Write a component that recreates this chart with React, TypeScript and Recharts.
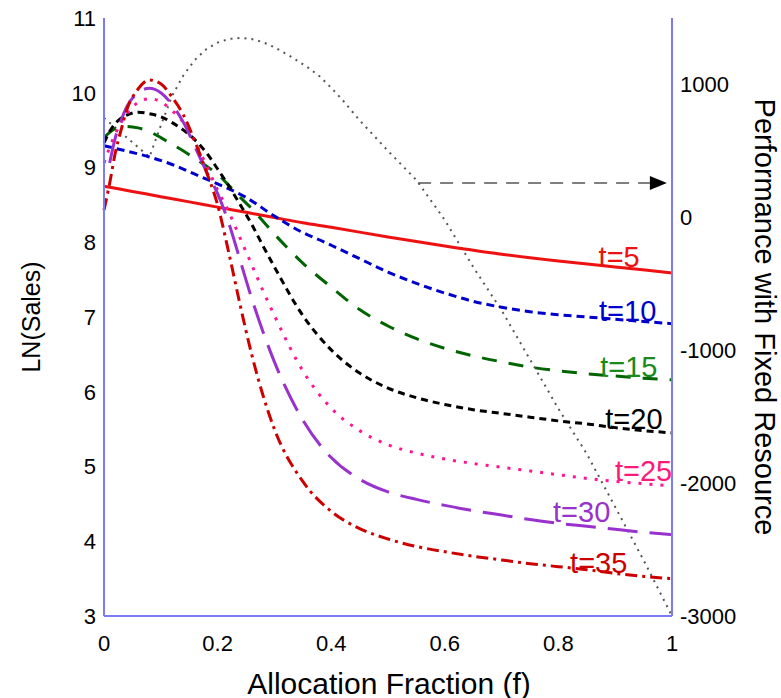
import React from 'react';
import { ComposedChart, Line, XAxis, YAxis, ReferenceDot } from 'recharts';

// ---------- data ----------
const xTicks = [0, 0.2, 0.4, 0.6, 0.8, 1];
const leftTicks = [3, 4, 5, 6, 7, 8, 9, 10, 11];
const rightTicks = [-3000, -2000, -1000, 0, 1000];

const fT5 = [0, 0.05, 0.1, 0.15, 0.2, 0.25, 0.3, 0.35, 0.4, 0.5, 0.6, 0.7, 0.8, 0.9, 1];
const vT5 = [8.75, 8.68, 8.61, 8.54, 8.47, 8.4, 8.33, 8.26, 8.2, 8.07, 7.95, 7.84, 7.75, 7.67, 7.59];

const fT10 = [0, 0.04, 0.08, 0.12, 0.16, 0.2, 0.25, 0.3, 0.35, 0.38, 0.4, 0.45, 0.5, 0.55, 0.6, 0.65, 0.7, 0.75, 0.8, 0.85, 0.9, 0.95, 1];
const vT10 = [9.29, 9.22, 9.14, 9.04, 8.91, 8.78, 8.6, 8.35, 8.13, 8.03, 7.96, 7.78, 7.6, 7.45, 7.32, 7.21, 7.13, 7.07, 7.03, 7.0, 6.97, 6.94, 6.91];

const fGrid = [0, 0.01, 0.02, 0.03, 0.04, 0.06, 0.08, 0.1, 0.12, 0.14, 0.16, 0.18, 0.2, 0.22, 0.24, 0.26, 0.28, 0.3, 0.35, 0.4, 0.45, 0.5, 0.55, 0.6, 0.65, 0.7, 0.75, 0.8, 0.85, 0.9, 0.95, 1];
const vT15 = [9.4, 9.47, 9.52, 9.54, 9.55, 9.53, 9.48, 9.4, 9.31, 9.22, 9.12, 9.02, 8.91, 8.76, 8.6, 8.45, 8.28, 8.11, 7.72, 7.4, 7.1, 6.88, 6.71, 6.58, 6.48, 6.4, 6.33, 6.28, 6.24, 6.21, 6.18, 6.16];
const vT20 = [9.33, 9.48, 9.59, 9.66, 9.7, 9.74, 9.72, 9.68, 9.6, 9.5, 9.37, 9.2, 8.98, 8.75, 8.5, 8.24, 7.95, 7.67, 7.02, 6.56, 6.25, 6.05, 5.92, 5.83, 5.76, 5.71, 5.66, 5.61, 5.57, 5.52, 5.48, 5.45];
const vT25 = [9.06, 9.27, 9.45, 9.6, 9.72, 9.87, 9.92, 9.88, 9.76, 9.6, 9.35, 9.03, 8.7, 8.4, 8.05, 7.7, 7.35, 7.02, 6.28, 5.78, 5.48, 5.29, 5.18, 5.1, 5.04, 4.99, 4.94, 4.89, 4.84, 4.8, 4.77, 4.74];
const fT30 = [0.01, 0.02, 0.03, 0.04, 0.06, 0.08, 0.1, 0.12, 0.14, 0.16, 0.18, 0.2, 0.22, 0.24, 0.26, 0.28, 0.3, 0.35, 0.4, 0.45, 0.5, 0.55, 0.6, 0.65, 0.7, 0.75, 0.8, 0.85, 0.9, 0.95, 1];
const vT30 = [9.06, 9.4, 9.63, 9.81, 10.0, 10.06, 10.0, 9.84, 9.6, 9.28, 8.95, 8.65, 8.25, 7.75, 7.25, 6.8, 6.4, 5.62, 5.12, 4.83, 4.66, 4.56, 4.48, 4.41, 4.35, 4.29, 4.24, 4.2, 4.16, 4.12, 4.09];
const vT35 = [8.43, 8.79, 9.2, 9.5, 9.77, 10.05, 10.17, 10.12, 9.94, 9.7, 9.35, 8.95, 8.5, 7.85, 7.15, 6.5, 5.95, 5.5, 4.8, 4.4, 4.17, 4.03, 3.93, 3.86, 3.8, 3.75, 3.7, 3.66, 3.62, 3.57, 3.53, 3.5];

// performance with fixed resource (right axis)
const fPerf = [0, 0.08, 0.1, 0.12, 0.14, 0.16, 0.18, 0.2, 0.22, 0.24, 0.26, 0.28, 0.3, 0.33, 0.36, 0.38, 0.4, 0.42, 0.45, 0.5, 0.55, 0.6, 0.65, 0.7, 0.75, 0.8, 0.85, 0.9, 0.95, 1];
const vPerf = [748, 454, 690, 915, 1070, 1185, 1265, 1315, 1342, 1350, 1342, 1318, 1280, 1207, 1125, 1060, 975, 883, 730, 500, 280, -20, -374, -700, -1070, -1440, -1780, -2180, -2580, -3000];

// horizontal arrow to right axis
const fArrow = [0.553, 0.961];
const vArrow = [258, 258];

// curve labels
const labelText = ['t=5', 't=10', 't=15', 't=20', 't=25', 't=30', 't=35'];
const labelF = [0.907, 0.922, 0.924, 0.933, 0.95, 0.841, 0.871];
const labelV = [7.8, 7.08, 6.33, 5.64, 4.94, 4.39, 3.71];

// ---------- styles ----------
const FONT = '"Liberation Sans", Arial, Helvetica, sans-serif';
const AXIS = '#7b7bf2';
const labelColors = ['#ee1111', '#0000cc', '#1a8a1a', '#000000', '#ff1a7a', '#9932cc', '#cc0000'];

const rows = (fs: number[], vs: number[]) => fs.map((f, i) => ({ f, v: vs[i] }));

const tickStyle = { fill: '#000', fontSize: 22, fontFamily: FONT };

const ArrowDot = (props: any) => {
  const { cx, cy, index } = props;
  if (index !== fArrow.length - 1) return <g key={`a${index}`} />;
  return <polygon key={`a${index}`} points={`${cx},${cy - 7} ${cx + 17},${cy} ${cx},${cy + 7}`} fill="#000" />;
};

const fmtX = (v: number) => (v === 0 ? '0' : v === 1 ? '1' : String(v));

export default function App() {
  return (
    <div style={{ position: 'absolute', left: 0, top: 0, background: '#fff' }}>
      <ComposedChart width={781} height={698} margin={{ top: 18, right: 0, bottom: 0, left: 0 }}>
        <XAxis
          dataKey="f"
          type="number"
          domain={[0, 1]}
          ticks={xTicks}
          tickFormatter={fmtX}
          height={82}
          stroke={AXIS}
          strokeWidth={2}
          tickLine={false}
          tickMargin={13}
          tick={tickStyle}
          allowDuplicatedCategory={false}
          label={{
            content: () => (
              <text x={389} y={683} textAnchor="middle" dominantBaseline="central" fontSize={30} fontFamily={FONT} fill="#000">
                Allocation Fraction (f)
              </text>
            ),
          }}
        />
        <YAxis
          yAxisId="left"
          type="number"
          domain={[3, 11]}
          ticks={leftTicks}
          width={104}
          stroke={AXIS}
          strokeWidth={2}
          tickLine={false}
          tick={tickStyle}
          label={{
            content: () => (
              <text x={31} y={317} transform="rotate(-90 31 317)" textAnchor="middle" dominantBaseline="central" fontSize={25} fontFamily={FONT} fill="#000">
                LN(Sales)
              </text>
            ),
          }}
        />
        <YAxis
          yAxisId="right"
          orientation="right"
          type="number"
          domain={[-3000, 1500]}
          ticks={rightTicks}
          width={109}
          stroke={AXIS}
          strokeWidth={2}
          tickLine={false}
          tick={tickStyle}
          label={{
            content: () => (
              <text x={765} y={317} transform="rotate(90 765 317)" textAnchor="middle" dominantBaseline="central" fontSize={29} fontFamily={FONT} fill="#000">
                Performance with Fixed Resource
              </text>
            ),
          }}
        />

        <Line data={rows(fPerf, vPerf)} dataKey="v" yAxisId="right" type="linear" stroke="#555" strokeWidth={2} strokeDasharray="2 5" dot={false} isAnimationActive={false} />
        <Line data={rows(fArrow, vArrow)} dataKey="v" yAxisId="right" type="linear" stroke="#555" strokeWidth={1.5} strokeDasharray="13 9" dot={<ArrowDot />} isAnimationActive={false} />

        <Line data={rows(fT5, vT5)} dataKey="v" yAxisId="left" type="monotone" stroke="#ee1111" strokeWidth={3} dot={false} isAnimationActive={false} />
        <Line data={rows(fT10, vT10)} dataKey="v" yAxisId="left" type="monotone" stroke="#0000cc" strokeWidth={3} strokeDasharray="8 5" dot={false} isAnimationActive={false} />
        <Line data={rows(fGrid, vT15)} dataKey="v" yAxisId="left" type="monotone" stroke="#006400" strokeWidth={3} strokeDasharray="15 12" dot={false} isAnimationActive={false} />
        <Line data={rows(fGrid, vT20)} dataKey="v" yAxisId="left" type="monotone" stroke="#000000" strokeWidth={3} strokeDasharray="7 5" dot={false} isAnimationActive={false} />
        <Line data={rows(fGrid, vT25)} dataKey="v" yAxisId="left" type="monotone" stroke="#ff1493" strokeWidth={3} strokeDasharray="3 8" dot={false} isAnimationActive={false} />
        <Line data={rows(fT30, vT30)} dataKey="v" yAxisId="left" type="monotone" stroke="#9932cc" strokeWidth={3} strokeDasharray="30 12" dot={false} isAnimationActive={false} />
        <Line data={rows(fGrid, vT35)} dataKey="v" yAxisId="left" type="monotone" stroke="#cc0000" strokeWidth={3} strokeDasharray="12 5 3 5" dot={false} isAnimationActive={false} />

        {labelText.map((t, i) => (
          <ReferenceDot
            key={t}
            yAxisId="left"
            x={labelF[i]}
            y={labelV[i]}
            r={0}
            fill="none"
            stroke="none"
            label={{ value: t, position: 'center', fill: labelColors[i], fontSize: 29, fontFamily: FONT }}
          />
        ))}
      </ComposedChart>
    </div>
  );
}
